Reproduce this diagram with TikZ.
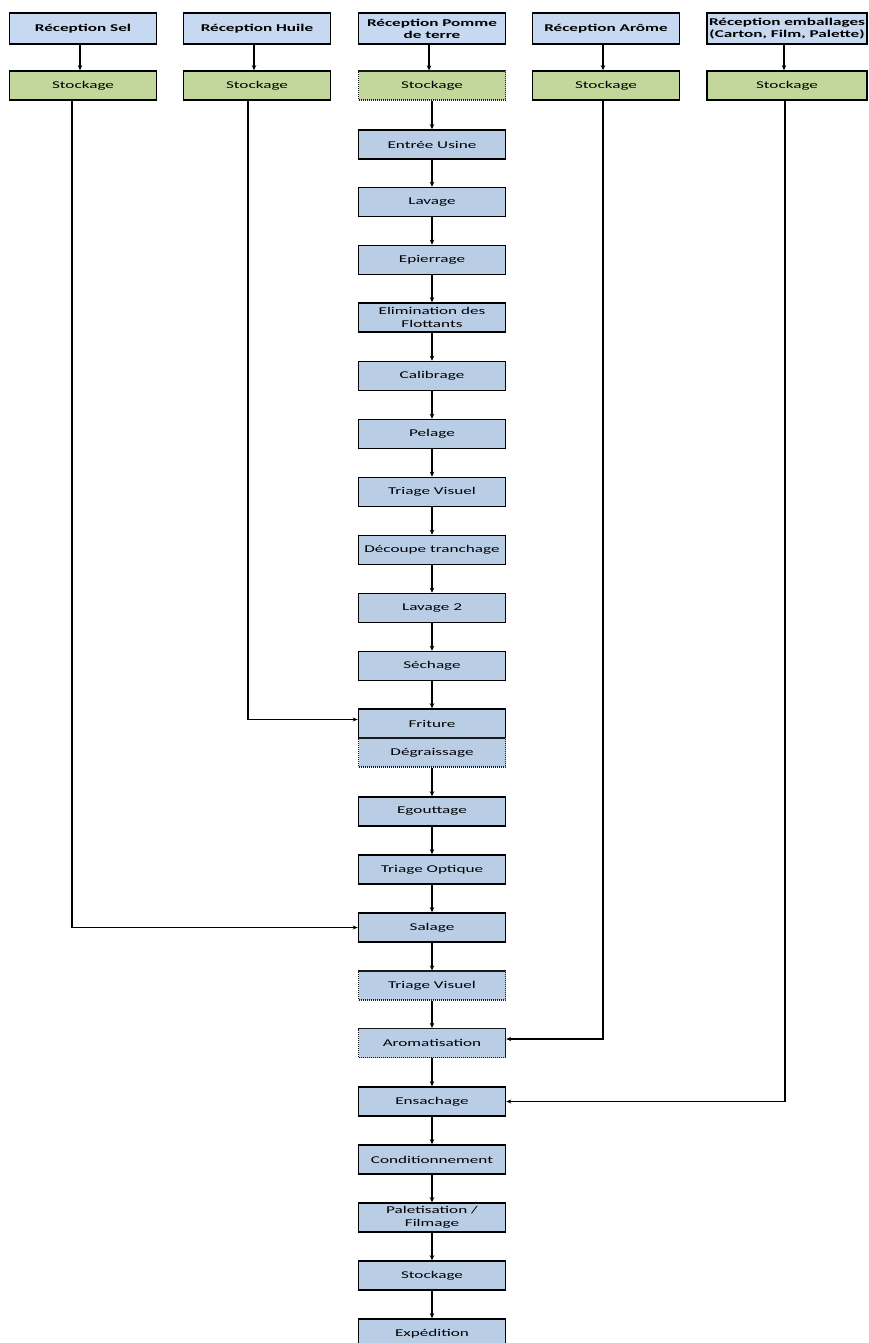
\documentclass[tikz,border=0pt]{standalone}
\usepackage{fontspec}
\setmainfont{Carlito}[FakeStretch=1.65]
\usetikzlibrary{arrows.meta}
\definecolor{recblue}{HTML}{C6D9F1}
\definecolor{procblue}{HTML}{B9CDE5}
\definecolor{stogreen}{HTML}{C3D69B}
\tikzset{
  box/.style={draw=black, line width=1.6pt, minimum width=147pt, minimum height=29pt,
    inner sep=0pt, align=center, font=\fontsize{10.4}{12.5}\selectfont},
  recbox/.style={box, fill=recblue, minimum height=31pt, font=\fontsize{10.4}{12.2}\selectfont\bfseries},
  stobox/.style={box, fill=stogreen},
  procbox/.style={box, fill=procblue},
  dotbox/.style={draw=black!90, line width=1.3pt, dash pattern=on 1.2pt off 0.8pt},
  arr/.style={line width=1.8pt, -{Stealth[length=5pt,width=4.5pt]}},
  sidearr/.style={line width=1.2pt, -{Stealth[length=5pt,width=4pt]}}
}
\begin{document}
\begin{tikzpicture}[x=1pt,y=-1pt]
\useasboundingbox[fill=white] (0,0) rectangle (868,1343);
% top row
\node[recbox] (r1) at (83,28.5) {Réception Sel};
\node[recbox] (r2) at (257,28.5) {Réception Huile};
\node[recbox] (r3) at (432,28.5) {Réception Pomme\\de terre};
\node[recbox] (r4) at (606,28.5) {Réception Arôme};
\node[recbox, minimum width=160pt] (r5) at (787,28.5) {Réception emballages\\(Carton, Film, Palette)};
% storage row
\node[stobox] (s1) at (83,85.5) {Stockage};
\node[stobox] (s2) at (257,85.5) {Stockage};
\node[stobox, dotbox] (s3) at (432,85.5) {Stockage};
\node[stobox] (s4) at (606,85.5) {Stockage};
\node[stobox, minimum width=160pt] (s5) at (787,85.5) {Stockage};
% main column
\node[procbox] (p1) at (432,144.5) {Entrée Usine};
\node[procbox] (p2) at (432,202) {Lavage};
\node[procbox] (p3) at (432,260) {Epierrage};
\node[procbox] (p4) at (432,317.5) {Elimination des\\Flottants};
\node[procbox] (p5) at (432,376) {Calibrage};
\node[procbox] (p6) at (432,434) {Pelage};
\node[procbox] (p7) at (432,492) {Triage Visuel};
\node[procbox] (p8) at (432,550) {Découpe tranchage};
\node[procbox] (p9) at (432,608) {Lavage 2};
\node[procbox] (p10) at (432,666) {Séchage};
\node[procbox] (p11) at (432,723.5) {Friture};
\node[procbox, dotbox] (p12) at (432,752.5) {Dégraissage};
\node[procbox] (p13) at (432,811.5) {Egouttage};
\node[procbox] (p14) at (432,869.5) {Triage Optique};
\node[procbox] (p15) at (432,927.5) {Salage};
\node[procbox, dotbox] (p16) at (432,985.5) {Triage Visuel};
\node[procbox, dotbox] (p17) at (432,1043) {Aromatisation};
\node[procbox] (p18) at (432,1101.5) {Ensachage};
\node[procbox] (p19) at (432,1159.5) {Conditionnement};
\node[procbox] (p20) at (432,1217.5) {Paletisation /\\Filmage};
\node[procbox] (p21) at (432,1275.5) {Stockage};
\node[procbox] (p22) at (432,1333.5) {Expédition};
% top arrows
\foreach \i in {1,...,5} \draw[arr] ([xshift=-3pt]r\i.south) -- ([xshift=-3pt]s\i.north);
% main arrows
\draw[arr] (s3) -- (p1);
\foreach \a/\b in {p1/p2,p2/p3,p3/p4,p4/p5,p5/p6,p6/p7,p7/p8,p8/p9,p9/p10,p10/p11,
  p12/p13,p13/p14,p14/p15,p15/p16,p16/p17,p17/p18,p18/p19,p19/p20,p20/p21,p21/p22}
  \draw[arr] (\a.south) -- (\b.north);
% side connectors
\draw[sidearr] ([xshift=-11pt]s1.south) |- (p15.west);
\draw[sidearr] ([xshift=-9pt]s2.south) |- ([yshift=4pt]p11.west);
\draw[sidearr] ([xshift=-3pt]s4.south) |- ([yshift=4pt]p17.east);
\draw[sidearr] ([xshift=-2pt]s5.south) |- (p18.east);
\end{tikzpicture}
\end{document}
